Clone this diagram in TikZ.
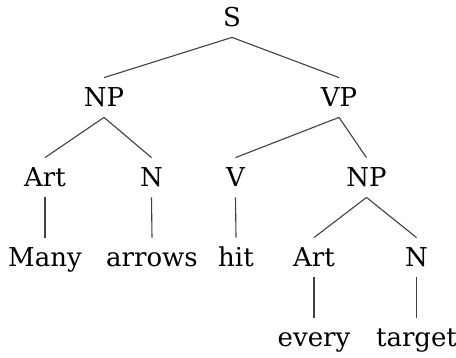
\documentclass[tikz,border=0pt]{standalone}
\usepackage{fontspec}
\setmainfont{DejaVu Serif}
\usepackage{tikz}
\usetikzlibrary{positioning}

\begin{document}
\begin{tikzpicture}[
  x=0.5pt, y=-0.5pt,
  cat/.style={inner xsep=1pt, inner ysep=5pt, text height=9.5pt,
              text depth=0pt, font=\fontsize{13}{15}\selectfont},
  edge/.style={draw=black!75, line width=0.55pt}
]
  \useasboundingbox (0,0) rectangle (456,358);

  % Categories — one row every 80px
  \node[cat] (s)    at (232,17.5)  {S};
  \node[cat] (np)   at (104,97.5)  {NP};
  \node[cat] (vp)   at (339,97.5)  {VP};
  \node[cat] (art)  at (45,177.5)  {Art};
  \node[cat] (n)    at (151.5,177.5) {N};
  \node[cat] (v)    at (235.5,177.5) {V};
  \node[cat] (np2)  at (366.5,177.5) {NP};
  \node[cat] (art2) at (314,257.5) {Art};
  \node[cat] (n2)   at (416.5,257.5) {N};

  % Words
  \node[cat] (many)   at (45,257.5)  {Many};
  \node[cat] (arrows) at (152,257.5) {arrows};
  \node[cat] (hit)    at (236,257.5) {hit};
  \node[cat] (every)  at (314,337.5) {every};
  \node[cat] (target) at (416.5,337.5) {target};

  % Branches
  \draw[edge] (s.south) -- (np.north);
  \draw[edge] (s.south) -- (vp.north);
  \draw[edge] (np.south) -- (art.north);
  \draw[edge] (np.south) -- (n.north);
  \draw[edge] (vp.south) -- (v.north);
  \draw[edge] (vp.south) -- (np2.north);
  \draw[edge] (np2.south) -- (art2.north);
  \draw[edge] (np2.south) -- (n2.north);
  \draw[edge] (art.south) -- (many.north);
  \draw[edge] (n.south) -- (arrows.north);
  \draw[edge] (v.south) -- (hit.north);
  \draw[edge] (art2.south) -- (every.north);
  \draw[edge] (n2.south) -- (target.north);
\end{tikzpicture}
\end{document}
